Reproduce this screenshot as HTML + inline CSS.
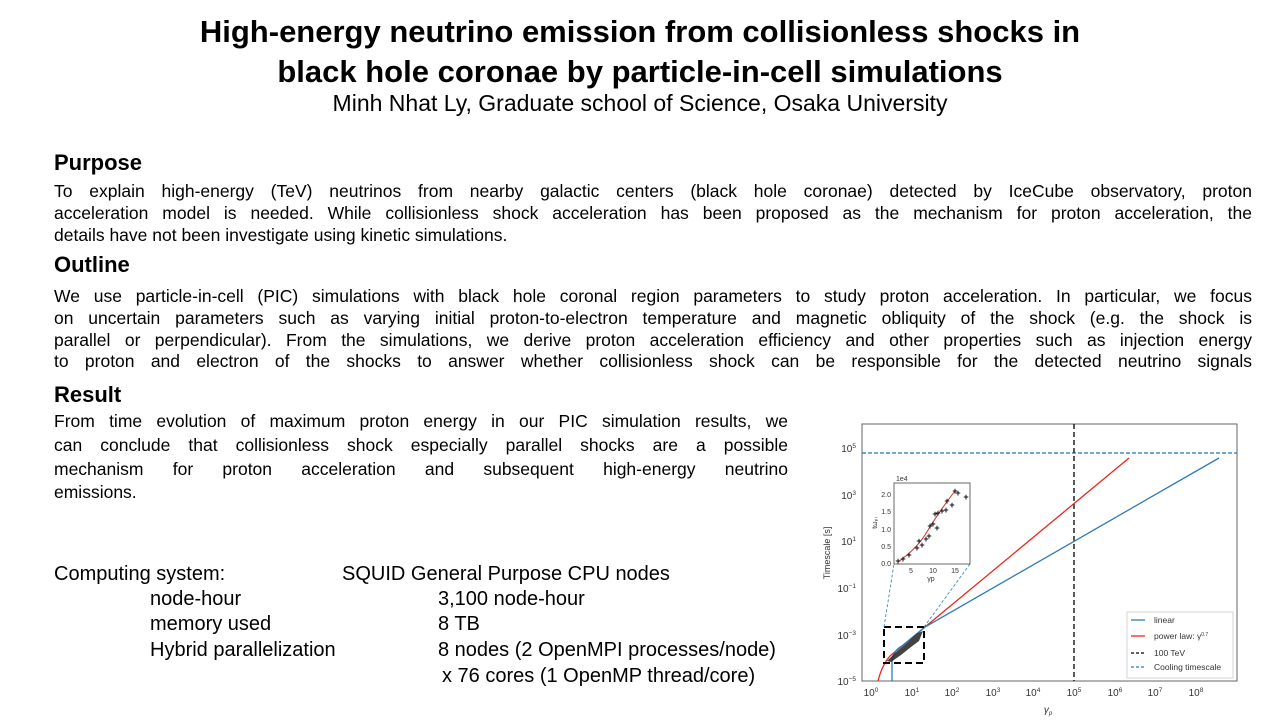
<!DOCTYPE html>
<html><head><meta charset="utf-8"><style>
body{margin:0;width:1280px;height:720px;background:#fff;position:relative;overflow:hidden;font-family:"Liberation Sans",sans-serif;color:#000}
.a{position:absolute;white-space:nowrap}
.t{font-weight:bold;font-size:31px;left:0;width:1280px;text-align:center}
.h{font-weight:bold;font-size:22px;left:54px}
.j{position:absolute;left:54px;width:1198px;font-size:17.5px;text-align:justify;text-align-last:justify;white-space:nowrap;height:22px;line-height:22px}
.r{position:absolute;left:54px;width:734px;font-size:17.5px;text-align:justify;text-align-last:justify;height:24px;line-height:24px;white-space:nowrap}
.c{font-size:20px}
</style></head><body>
<div class="a t" style="top:14px">High-energy neutrino emission from collisionless shocks in</div>
<div class="a t" style="top:54px">black hole coronae by particle-in-cell simulations</div>
<div class="a" style="left:0;width:1280px;text-align:center;top:90px;font-size:23px">Minh Nhat Ly, Graduate school of Science, Osaka University</div>

<div class="a h" style="top:150px">Purpose</div>
<div class="j" style="top:180px">To explain high-energy (TeV) neutrinos from nearby galactic centers (black hole coronae) detected by IceCube observatory, proton</div>
<div class="j" style="top:202px">acceleration model is needed. While collisionless shock acceleration has been proposed as the mechanism for proton acceleration, the</div>
<div class="a" style="left:54px;top:224px;font-size:17.5px;line-height:22px">details have not been investigate using kinetic simulations.</div>
<div class="a h" style="top:252px">Outline</div>
<div class="j" style="top:285px">We use particle-in-cell (PIC) simulations with black hole coronal region parameters to study proton acceleration. In particular, we focus</div>
<div class="j" style="top:307px">on uncertain parameters such as varying initial proton-to-electron temperature and magnetic obliquity of the shock (e.g. the shock is</div>
<div class="j" style="top:329px">parallel or perpendicular). From the simulations, we derive proton acceleration efficiency and other properties such as injection energy</div>
<div class="j" style="top:350px">to proton and electron of the shocks to answer whether collisionless shock can be responsible for the detected neutrino signals</div>

<div class="a h" style="top:382px">Result</div>
<div class="r" style="top:409px">From time evolution of maximum proton energy in our PIC simulation results, we</div>
<div class="r" style="top:433px">can conclude that collisionless shock especially parallel shocks are a possible</div>
<div class="r" style="top:457px">mechanism for proton acceleration and subsequent high-energy neutrino</div>
<div class="a" style="left:54px;top:480px;font-size:17.5px;line-height:24px">emissions.</div>

<div class="a c" style="left:54px;top:563px">Computing system:</div>
<div class="a c" style="left:342px;top:563px">SQUID General Purpose CPU nodes</div>
<div class="a c" style="left:150px;top:588px">node-hour</div>
<div class="a c" style="left:438px;top:588px">3,100 node-hour</div>
<div class="a c" style="left:150px;top:613px">memory used</div>
<div class="a c" style="left:438px;top:613px">8 TB</div>
<div class="a c" style="left:150px;top:639px">Hybrid parallelization</div>
<div class="a c" style="left:438px;top:639px">8 nodes (2 OpenMPI processes/node)</div>
<div class="a c" style="left:442px;top:665px">x 76 cores (1 OpenMP thread/core)</div>

<svg class="a" style="left:0;top:0" width="1280" height="720" font-family="Liberation Sans, sans-serif">
<rect x="862" y="424" width="375" height="257" fill="none" stroke="#666" stroke-width="1"/>
<g font-size="10" fill="#333" text-anchor="middle">
<text x="871" y="696">10<tspan font-size="6.5" dy="-4">0</tspan></text>
<text x="912" y="696">10<tspan font-size="6.5" dy="-4">1</tspan></text>
<text x="952" y="696">10<tspan font-size="6.5" dy="-4">2</tspan></text>
<text x="993" y="696">10<tspan font-size="6.5" dy="-4">3</tspan></text>
<text x="1033" y="696">10<tspan font-size="6.5" dy="-4">4</tspan></text>
<text x="1074" y="696">10<tspan font-size="6.5" dy="-4">5</tspan></text>
<text x="1115" y="696">10<tspan font-size="6.5" dy="-4">6</tspan></text>
<text x="1155" y="696">10<tspan font-size="6.5" dy="-4">7</tspan></text>
<text x="1196" y="696">10<tspan font-size="6.5" dy="-4">8</tspan></text>
<text x="1048" y="713" font-style="italic">γ<tspan font-size="6" dy="2">p</tspan></text>
</g>
<g font-size="10" fill="#333" text-anchor="end">
<text x="856" y="685">10<tspan font-size="6.5" dy="-4">−5</tspan></text>
<text x="856" y="639">10<tspan font-size="6.5" dy="-4">−3</tspan></text>
<text x="856" y="592">10<tspan font-size="6.5" dy="-4">−1</tspan></text>
<text x="856" y="545">10<tspan font-size="6.5" dy="-4">1</tspan></text>
<text x="856" y="499">10<tspan font-size="6.5" dy="-4">3</tspan></text>
<text x="856" y="452">10<tspan font-size="6.5" dy="-4">5</tspan></text>
</g>
<text x="830" y="553" font-size="9" fill="#333" transform="rotate(-90 830 553)" text-anchor="middle">Timescale [s]</text>
<line x1="862" y1="453" x2="1237" y2="453" stroke="#1f77b4" stroke-width="1.3" stroke-dasharray="4,2"/>
<line x1="1074" y1="424" x2="1074" y2="681" stroke="#000" stroke-width="1.3" stroke-dasharray="5,3"/>
<path d="M878 681 Q882 665 890 656 L925 627 L1129 458" fill="none" stroke="#e8281e" stroke-width="1.3"/>
<path d="M892 681 L892 660 Q894 650 902 646 L925 627 L1219 458" fill="none" stroke="#2f7bb7" stroke-width="1.3"/>
<rect x="884" y="627" width="40" height="36" fill="none" stroke="#000" stroke-width="2" stroke-dasharray="7,4"/>
<line x1="884" y1="627" x2="894" y2="564" stroke="#2f7bb7" stroke-width="0.8" stroke-dasharray="3,2"/>
<line x1="924" y1="627" x2="970" y2="564" stroke="#2f7bb7" stroke-width="0.8" stroke-dasharray="3,2"/>
<g fill="#222">
<path d="M887 661 L895 653 L902 647 L908 642 L913 637 L918 633 L923 631 L919 641 L911 647 L901 655 L891 662Z" opacity="0.85"/>
</g>
<rect x="894" y="483" width="76" height="81" fill="#fff" stroke="#444" stroke-width="0.8"/>
<text x="896" y="481" font-size="7" fill="#333">1e4</text>
<g font-size="7" fill="#333" text-anchor="end">
<text x="891" y="566">0.0</text><text x="891" y="549">0.5</text><text x="891" y="532">1.0</text><text x="891" y="514">1.5</text><text x="891" y="497">2.0</text>
</g>
<g font-size="7" fill="#333" text-anchor="middle">
<text x="911" y="573">5</text><text x="933" y="573">10</text><text x="955" y="573">15</text><text x="931" y="581">γp</text>
</g>
<text x="877" y="523" font-size="7" fill="#333" transform="rotate(-90 877 523)" text-anchor="middle">tωₚᵢ</text>
<path d="M898 562 Q915 550 925 535 Q940 510 955 491" fill="none" stroke="#d62728" stroke-width="1"/>
<g fill="#111" font-size="9" font-weight="bold" text-anchor="middle">
<text x="898" y="564">+</text><text x="903" y="562">+</text><text x="909" y="558">+</text><text x="917" y="551">+</text><text x="919" y="544">+</text><text x="922" y="548">+</text><text x="926" y="542">+</text><text x="929" y="539">+</text><text x="930" y="529">+</text><text x="933" y="527">+</text><text x="935" y="517">+</text><text x="937" y="531">+</text><text x="938" y="516">+</text><text x="942" y="514">+</text><text x="946" y="513">+</text><text x="947" y="504">+</text><text x="952" y="508">+</text><text x="955" y="494">+</text><text x="958" y="496">+</text><text x="966" y="500">+</text>
</g>
<rect x="1127" y="612" width="106" height="66" fill="#fff" stroke="#ccc" stroke-width="0.8"/>
<g font-size="8.5" fill="#333">
<line x1="1131" y1="620" x2="1145" y2="620" stroke="#2f7bb7" stroke-width="1.3"/><text x="1154" y="623">linear</text>
<line x1="1131" y1="636" x2="1145" y2="636" stroke="#e8281e" stroke-width="1.3"/><text x="1154" y="639">power law: γ<tspan font-size="5" dy="-3">0.7</tspan></text>
<line x1="1131" y1="653" x2="1145" y2="653" stroke="#000" stroke-width="1.3" stroke-dasharray="3,2"/><text x="1154" y="656">100 TeV</text>
<line x1="1131" y1="667" x2="1145" y2="667" stroke="#2f7bb7" stroke-width="1.3" stroke-dasharray="3,2"/><text x="1154" y="670">Cooling timescale</text>
</g>
</svg>
</body></html>
